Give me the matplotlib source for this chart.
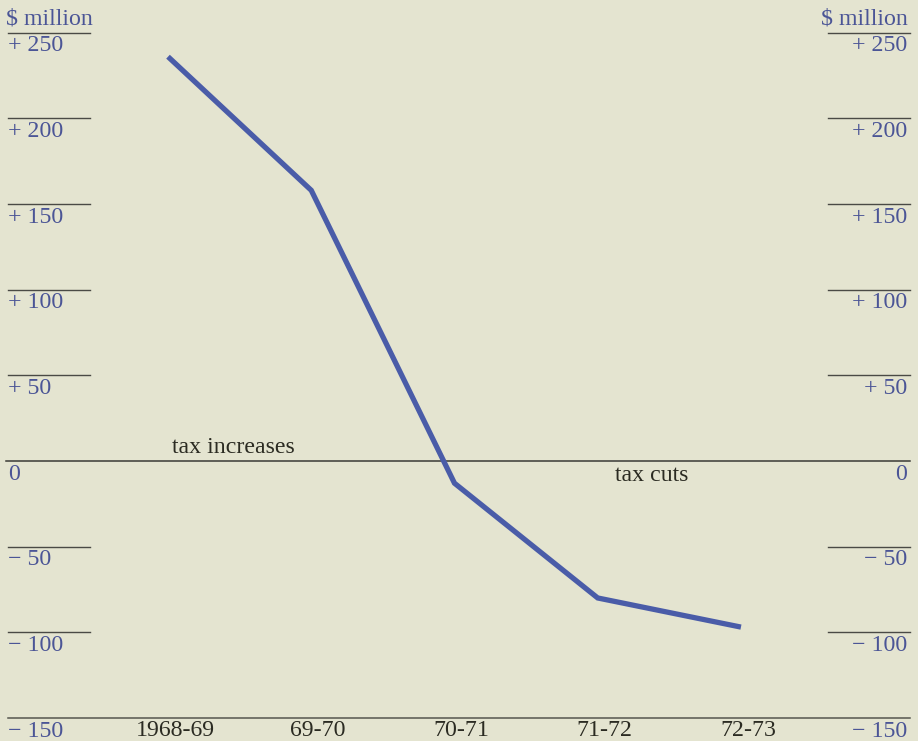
import matplotlib
matplotlib.use("Agg")
import matplotlib.pyplot as plt
from matplotlib import transforms

categories = ["1968-69", "69-70", "70-71", "71-72", "72-73"]
values = [236, 158, -13, -80, -97]
tick_values = [250, 200, 150, 100, 50, 0, -50, -100, -150]
tick_labels = ["+ 250", "+ 200", "+ 150", "+ 100", "+ 50", "0", "\u2212 50", "\u2212 100", "\u2212 150"]

BG = "#e4e4d0"
LINE = "#4a5ca8"
LABEL = "#4b5596"
DARK = "#2b2b22"
plt.rcParams['font.family'] = ['Liberation Serif', 'DejaVu Serif']

fig = plt.figure(figsize=(9.18, 7.41), dpi=100, facecolor=BG)
ax = fig.add_axes([0, 0, 1, 1])
ax.set_facecolor(BG)
ax.set_xlim(-1.173, 5.236)
ax.set_ylim(-163.5, 269.1)
ax.axis("off")

ytr = ax.get_yaxis_transform()
fs = 17.2

for v, lab in zip(tick_values, tick_labels):
    if v == 0:
        ax.plot([6/918, 910/918], [0, 0], transform=ytr, color="#3a3a35", lw=1.1)
    elif v == -150:
        ax.plot([8/918, 910/918], [v, v], transform=ytr, color="#55554e", lw=1.1)
    else:
        ax.plot([8/918, 90/918], [v, v], transform=ytr, color="#4a4a45", lw=1.0)
        ax.plot([828/918, 910/918], [v, v], transform=ytr, color="#4a4a45", lw=1.0)
    off = transforms.offset_copy(ytr, fig=fig, x=0, y=-2, units='points')
    ax.text(8/918, v, lab, transform=off, ha="left", va="top", color=LABEL, fontsize=fs)
    ax.text(907/918, v, lab, transform=off, ha="right", va="top", color=LABEL, fontsize=fs)

# $ million headers
hdr = transforms.offset_copy(ytr, fig=fig, x=0, y=2, units='points')
ax.text(6/918, 250, "$ million", transform=hdr, ha="left", va="bottom", color=LABEL, fontsize=fs)
ax.text(908/918, 250, "$ million", transform=hdr, ha="right", va="bottom", color=LABEL, fontsize=fs)

xs = list(range(len(categories)))
ax.plot(xs, values, color=LINE, lw=3.8, solid_capstyle="butt", solid_joinstyle="miter", zorder=5)

for x, c in zip(xs, categories):
    ax.annotate(c, (x, -150), xytext=(5, -1.5), textcoords="offset points",
                ha="center", va="top", color=DARK, fontsize=fs)

ax.text(172/918, 0, "tax increases", transform=transforms.offset_copy(ytr, fig=fig, x=0, y=2, units='points'),
        ha="left", va="bottom", color=DARK, fontsize=fs)
ax.text(615/918, 0, "tax cuts", transform=transforms.offset_copy(ytr, fig=fig, x=0, y=-3, units='points'),
        ha="left", va="top", color=DARK, fontsize=fs)

fig.savefig("out.png", dpi=100, facecolor=BG)
